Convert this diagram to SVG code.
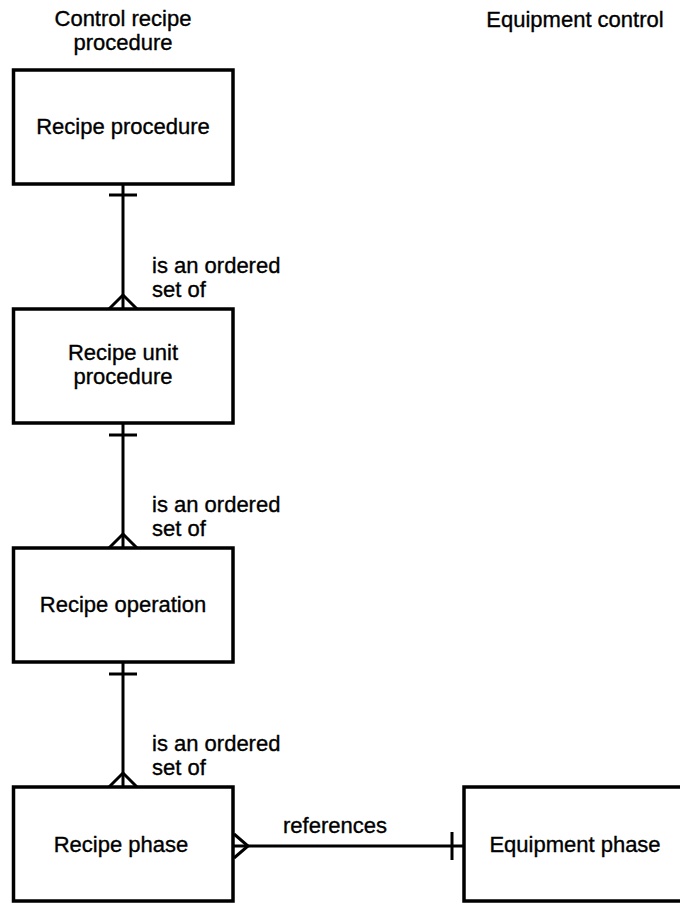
<svg xmlns="http://www.w3.org/2000/svg" width="680" height="903" viewBox="0 0 680 903">
<style>
.box{fill:#fff;stroke:#000;stroke-width:3.5}
.ln{fill:none;stroke:#000;stroke-width:3}
text{font-family:"Liberation Sans",Arial,sans-serif;font-size:22px;fill:#000;stroke:#000;stroke-width:0.35}
.c{text-anchor:middle}
</style>
<rect width="680" height="903" fill="#fff"/>
<g id="headers">
<text class="c" x="123" y="26">Control recipe</text>
<text class="c" x="123" y="50">procedure</text>
<text class="c" x="575" y="27">Equipment control</text>
</g>
<g id="connectors">
<g id="c1">
<line class="ln" x1="123" y1="184" x2="123" y2="309"/>
<line class="ln" x1="109" y1="195" x2="137" y2="195"/>
<polyline class="ln" points="109,309 123,295 137,309"/>
<text x="152" y="273">is an ordered</text>
<text x="152" y="297">set of</text>
</g>
<g id="c2">
<line class="ln" x1="123" y1="423" x2="123" y2="548"/>
<line class="ln" x1="109" y1="435" x2="137" y2="435"/>
<polyline class="ln" points="109,548 123,534 137,548"/>
<text x="152" y="512">is an ordered</text>
<text x="152" y="536">set of</text>
</g>
<g id="c3">
<line class="ln" x1="123" y1="662" x2="123" y2="787"/>
<line class="ln" x1="109" y1="674" x2="137" y2="674"/>
<polyline class="ln" points="109,787 123,773 137,787"/>
<text x="152" y="751">is an ordered</text>
<text x="152" y="775">set of</text>
</g>
<g id="c4">
<line class="ln" x1="234" y1="846" x2="464" y2="846"/>
<polyline class="ln" points="234,834 248,846 234,858"/>
<line class="ln" x1="452" y1="832" x2="452" y2="860"/>
<text class="c" x="335" y="833">references</text>
</g>
</g>
<g id="recipe-procedure">
<rect class="box" x="13.5" y="70" width="219.5" height="114"/>
<text class="c" x="123" y="134">Recipe procedure</text>
</g>
<g id="recipe-unit-procedure">
<rect class="box" x="13.5" y="309" width="219.5" height="114"/>
<text class="c" x="123" y="360">Recipe unit</text>
<text class="c" x="123" y="384">procedure</text>
</g>
<g id="recipe-operation">
<rect class="box" x="13.5" y="548" width="219.5" height="114"/>
<text class="c" x="123" y="612">Recipe operation</text>
</g>
<g id="recipe-phase">
<rect class="box" x="13.5" y="787" width="219.5" height="114"/>
<text class="c" x="121" y="852">Recipe phase</text>
</g>
<g id="equipment-phase">
<rect class="box" x="464" y="787" width="230" height="114"/>
<text class="c" x="575" y="852">Equipment phase</text>
</g>
</svg>
